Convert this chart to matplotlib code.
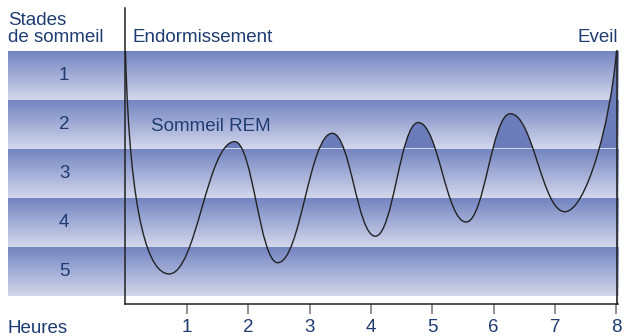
import matplotlib
matplotlib.use('Agg')
import matplotlib.pyplot as plt
import numpy as np
from matplotlib.path import Path
from matplotlib.patches import PathPatch, Rectangle
from matplotlib.colors import LinearSegmentedColormap

# data
stages = [1, 2, 3, 4, 5]
hour_ticks = [1, 2, 3, 4, 5, 6, 7, 8]
# turning points of the hypnogram (hours, sleep stage)
peak_hours = [0, 0.71, 1.78, 2.48, 3.37, 4.07, 4.77, 5.55, 6.27, 7.16, 8.0]
peak_stages = [0.5, 5.05, 2.35, 4.82, 2.18, 4.28, 1.96, 3.99, 1.78, 3.78, 0.5]

navy = '#1f3c72'
fs = 13.5
plt.rcParams['font.family'] = ['Liberation Sans', 'DejaVu Sans']

fig = plt.figure(figsize=(6.26, 3.36), dpi=100)
W, H = 626, 336
# axes from x=125..618 px, y=8..304 px
ax = fig.add_axes([125 / W, 1 - 304 / H, (618 - 125) / W, (304 - 8) / H])
ax.patch.set_alpha(0)

px_per_hour = (616.5 - 125.5) / 8
x_left = (8 - 125.5) / px_per_hour
x_right = (618 - 125.5) / px_per_hour

# gradient bands
cmap = LinearSegmentedColormap.from_list('band', ['#7385c1', '#d3d7ec'])
grad = np.linspace(0, 1, 64).reshape(-1, 1)
for s in stages:
    im = ax.imshow(grad, cmap=cmap, aspect='auto', interpolation='bilinear',
                   extent=(x_left, x_right, s + 0.5, s - 0.5), origin='upper',
                   zorder=0)
    im.set_clip_on(False)
    ax.text(-1.0, s, str(s), color=navy, fontsize=fs, ha='center', va='center')

# smooth curve through the turning points, drawn as bezier segments
verts = [(peak_hours[0], peak_stages[0])]
codes = [Path.MOVETO]
n = len(peak_hours)
for i in range(n - 1):
    x0, y0 = peak_hours[i], peak_stages[i]
    x1, y1 = peak_hours[i + 1], peak_stages[i + 1]
    dx = x1 - x0
    if i == 0:
        c1 = (x0 + 0.07, 4.0)
        c2 = (x1 - 0.45 * dx, y1)
    elif i == n - 2:
        c1 = (x0 + 0.4 * dx, y0)
        c2 = (x1 - 0.1, 2.0)
    else:
        c1 = (x0 + 0.42 * dx, y0)
        c2 = (x1 - 0.42 * dx, y1)
    verts += [c1, c2, (x1, y1)]
    codes += [Path.CURVE4] * 3

curve = Path(verts, codes)
ax.add_patch(PathPatch(curve, facecolor='none', edgecolor='#222222', lw=1.0, zorder=3))

# REM fill: area under the curve above the stage 2/3 boundary
fill_path = Path(verts + [(8.0, 6), (0, 6), (0, 0)],
                 codes + [Path.LINETO, Path.LINETO, Path.CLOSEPOLY])
fill = PathPatch(fill_path, facecolor='#6a7cba', edgecolor='none', zorder=2)
ax.add_patch(fill)
clip = Rectangle((1, 0.5), x_right - 1, 1.98, transform=ax.transData)
fill.set_clip_path(clip)

# right edge line
ax.plot([x_right - 0.02, x_right - 0.02], [0.5, 5.663], color='#222222', lw=1.2,
        clip_on=False, zorder=3)

ax.set_xlim(-0.008, x_right)
ax.set_ylim((304 - 26.5) / 49, (8 - 26.5) / 49)

for side in ['top', 'right']:
    ax.spines[side].set_visible(False)
for side in ['left', 'bottom']:
    ax.spines[side].set_linewidth(1.1)
    ax.spines[side].set_color('#222222')
ax.set_yticks([])
ax.set_xticks(hour_ticks)
ax.tick_params(axis='x', length=7.5, width=1.3, color='#888888', labelcolor=navy,
               labelsize=fs, pad=3.5)

ax.text(x_left, 0.32, 'Stades\nde sommeil', color=navy, fontsize=fs, ha='left',
        va='baseline', linespacing=1.02, clip_on=False)
ax.text(0.11, 0.32, 'Endormissement', color=navy, fontsize=fs, ha='left', va='baseline')
ax.text(8.03, 0.32, 'Eveil', color=navy, fontsize=fs, ha='right', va='baseline',
        clip_on=False)
ax.text(0.42, 2.05, 'Sommeil REM', color=navy, fontsize=fs, ha='left', va='center')
ax.text(x_left, 6.16, 'Heures', color=navy, fontsize=fs, ha='left', va='center',
        clip_on=False)

fig.savefig('out.png', dpi=100)
